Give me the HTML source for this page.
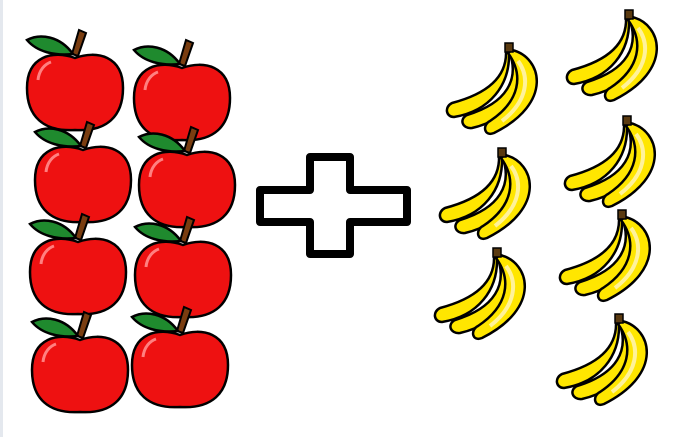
<!DOCTYPE html>
<html><head><meta charset="utf-8"><style>html,body{margin:0;padding:0;background:#fff}svg{display:block}</style></head>
<body>
<svg width="697" height="437" viewBox="0 0 697 437">
<defs>
<g id="apple">
  <path d="M-3,-34 L4,-58 L11,-55 L3,-32 Z" fill="#7a3d10" stroke="#000" stroke-width="2"/>
  <path d="M-2,-34 C-15,-52 -35,-55 -48,-48 C-38,-36 -20,-32 -2,-34 Z" fill="#1f8a2e" stroke="#000" stroke-width="2.5"/>
  <path d="M0,-30 C22,-38 48,-32 48,0 C48,28 32,44 0,42 C-32,44 -48,28 -48,0 C-48,-32 -22,-38 0,-30 Z" fill="#ee1111" stroke="#000" stroke-width="2.5"/>
  <path d="M-37,-8 C-36,-18 -30,-24 -24,-26" fill="none" stroke="#ff8080" stroke-width="3"/>
</g>
<g id="banana">
  <path d="M-6,6 C-5,30 -22,48 -60,58 C-68,62 -66,72 -58,72 C-22,66 -2,40 -3,8 Z" fill="#ffe600" stroke="#000" stroke-width="2.5"/>
  <path d="M-3,6 C8,34 -5,58 -45,70 C-53,74 -50,84 -40,83 C0,74 18,42 2,7 Z" fill="#ffe600" stroke="#000" stroke-width="2.5"/>
  <path d="M0,5 C30,12 42,58 -18,88 C-28,92 -30,80 -22,76 C8,56 12,30 -4,8 Z" fill="#ffe600" stroke="#000" stroke-width="2.5"/>
  <path d="M6,16 C18,32 16,56 -10,76" fill="none" stroke="#fff29a" stroke-width="4"/>
  <rect x="-7" y="-2" width="8" height="9" fill="#5a3a10" stroke="#000" stroke-width="1.5"/>
</g>
</defs>
<rect x="0" y="0" width="3" height="437" fill="#e4e8ee"/>
<g>
  <use href="#apple" x="75" y="88"/>
  <use href="#apple" x="83" y="180"/>
  <use href="#apple" x="78" y="272"/>
  <use href="#apple" x="80" y="370"/>
</g>
<g>
  <use href="#apple" x="182" y="98"/>
  <use href="#apple" x="187" y="185"/>
  <use href="#apple" x="183" y="275"/>
  <use href="#apple" x="180" y="365"/>
</g>
<path d="M310,157 L350,157 L350,190 L407,190 L407,222 L350,222 L350,254 L310,254 L310,222 L260,222 L260,190 L310,190 Z" fill="#fff" stroke="#000" stroke-width="8" stroke-linejoin="round"/>
<g>
  <use href="#banana" x="512" y="45"/>
  <use href="#banana" x="505" y="150"/>
  <use href="#banana" x="500" y="250"/>
</g>
<g>
  <use href="#banana" x="632" y="12"/>
  <use href="#banana" x="630" y="118"/>
  <use href="#banana" x="625" y="212"/>
  <use href="#banana" x="622" y="316"/>
</g>
</svg>
</body></html>
